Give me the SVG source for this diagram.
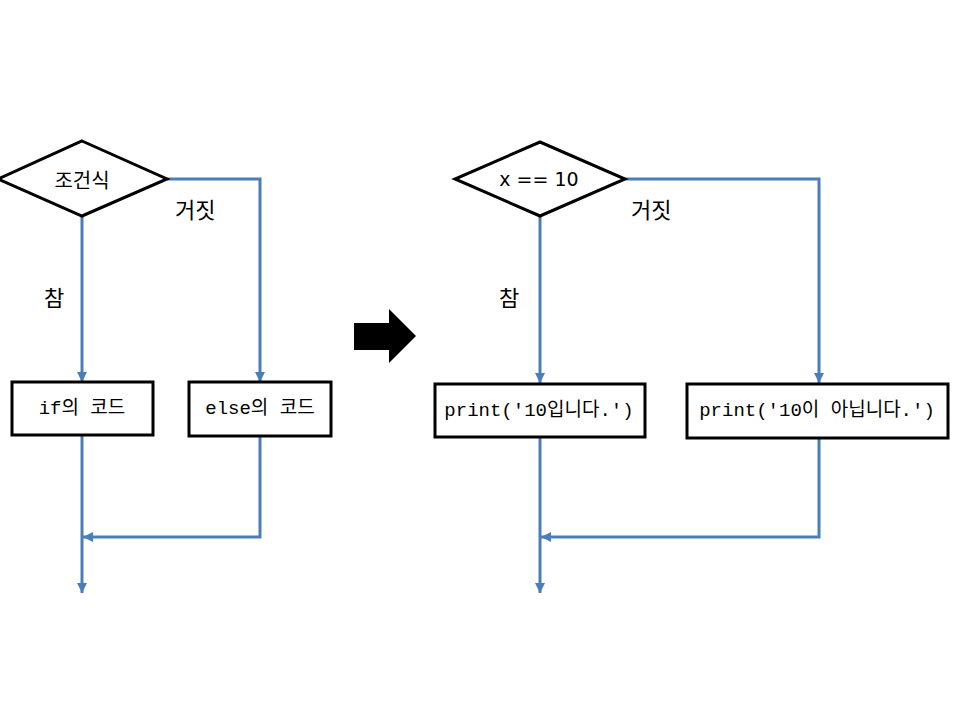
<svg xmlns="http://www.w3.org/2000/svg" width="960" height="720" viewBox="0 0 960 720">
<style>
.node{fill:#fff;stroke:#000;stroke-width:3}
.conn{fill:none;stroke:#4a7ebb;stroke-width:3}
.t{font-family:"Noto Sans CJK KR","Noto Sans",sans-serif;font-size:20px;fill:#000;text-anchor:middle;dominant-baseline:central}
.d{font-family:"DejaVu Sans","Noto Sans CJK KR",sans-serif;font-size:19px;fill:#000;text-anchor:middle;dominant-baseline:central}
.m{font-family:"Liberation Mono","Noto Sans CJK KR",monospace;font-size:19px;fill:#000;text-anchor:middle;dominant-baseline:central}
.lbl{font-family:"Noto Sans CJK KR","Noto Sans",sans-serif;font-size:22px;fill:#000;dominant-baseline:central}
</style>
<defs>
<marker id="ah" viewBox="0 0 10 10" refX="10" refY="5" markerWidth="10" markerHeight="10" markerUnits="userSpaceOnUse" orient="auto">
<path d="M0,0 L10,5 L0,10 Z" fill="#4a7ebb"/>
</marker>
</defs>
<rect width="960" height="720" fill="#fff"/>
<g id="connectors">
<path class="conn" d="M82,216 V382" marker-end="url(#ah)"/>
<path class="conn" d="M167,179 H260 V382" marker-end="url(#ah)"/>
<path class="conn" d="M82,435 V593" marker-end="url(#ah)"/>
<path class="conn" d="M260,436 V537 H83" marker-end="url(#ah)"/>
<path class="conn" d="M540,216 V383" marker-end="url(#ah)"/>
<path class="conn" d="M625,179 H819 V383" marker-end="url(#ah)"/>
<path class="conn" d="M540,437 V593" marker-end="url(#ah)"/>
<path class="conn" d="M819,438 V537 H541" marker-end="url(#ah)"/>
</g>
<g id="cond1">
<polygon class="node" points="82,141 167,179 82,216 -2,179"/>
<text class="t" x="82" y="179">조건식</text>
</g>
<g id="if1">
<rect class="node" x="12" y="382" width="141" height="53"/>
<text class="m" x="82" y="409">if의 코드</text>
</g>
<g id="else1">
<rect class="node" x="189" y="382" width="142" height="54"/>
<text class="m" x="260" y="409">else의 코드</text>
</g>
<g id="labels1">
<text class="lbl" x="175" y="208">거짓</text>
<text class="lbl" x="44" y="296">참</text>
</g>
<g id="bigarrow">
<polygon points="354,323 389,323 389,309 416,336 389,363 389,350 354,350" fill="#000"/>
</g>
<g id="cond2">
<polygon class="node" points="540,142 625,179 540,216 455,179"/>
<text class="d" x="539" y="179">x == 10</text>
</g>
<g id="if2">
<rect class="node" x="435" y="384" width="210" height="53"/>
<text class="m" x="539" y="411">print('10입니다.')</text>
</g>
<g id="else2">
<rect class="node" x="687" y="384" width="261" height="54"/>
<text class="m" x="817" y="411">print('10이 아닙니다.')</text>
</g>
<g id="labels2">
<text class="lbl" x="631" y="208">거짓</text>
<text class="lbl" x="499" y="296">참</text>
</g>
</svg>
